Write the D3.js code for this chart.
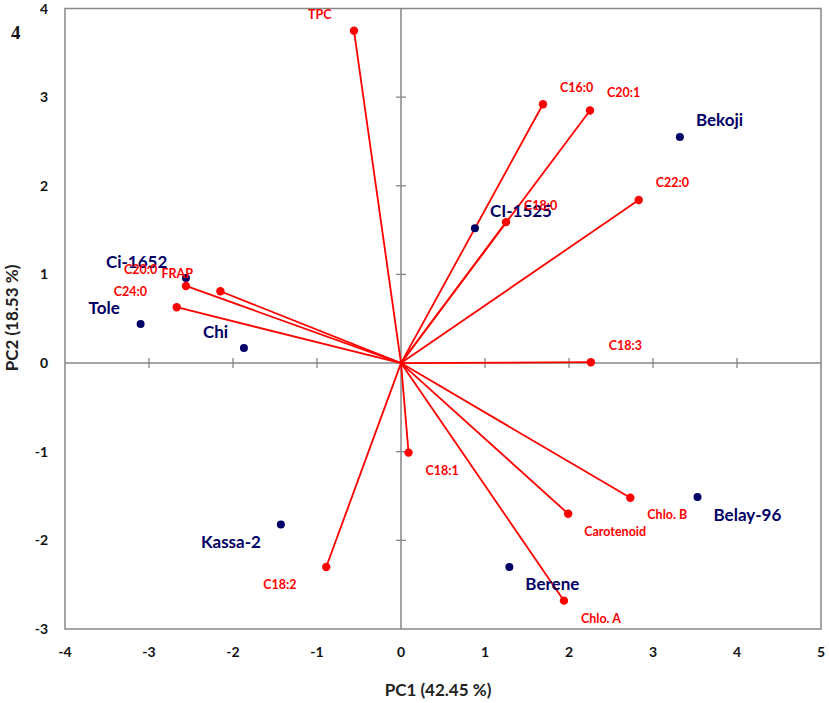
<!DOCTYPE html>
<html>
<head>
<meta charset="utf-8">
<script src="https://cdn.jsdelivr.net/npm/d3@7"></script>
<style>
  body { margin: 0; background: #fff; }
  text { font-family: Lato, "Open Sans", sans-serif; font-weight: bold; }
</style>
</head>
<body>
<div id="wrap"></div>
<script>
// loadings (red vectors)
var varNames = ["TPC", "C20:0", "FRAP", "C24:0", "C16:0", "C20:1", "C22:0", "C18:0", "C18:3", "C18:1", "Chlo. B", "Carotenoid", "Chlo. A", "C18:2"];
var varPC1 = [-0.56, -2.56, -2.15, -2.67, 1.69, 2.25, 2.83, 1.25, 2.26, 0.09, 2.73, 1.99, 1.94, -0.89];
var varPC2 = [3.75, 0.87, 0.81, 0.63, 2.92, 2.85, 1.84, 1.59, 0.01, -1.01, -1.52, -1.70, -2.68, -2.30];

// scores (genotypes)
var sampleNames = ["Ci-1652", "Tole", "Chi", "CI-1525", "Bekoji", "Belay-96", "Berene", "Kassa-2"];
var samplePC1 = [-2.56, -3.10, -1.87, 0.88, 3.32, 3.53, 1.29, -1.43];
var samplePC2 = [0.96, 0.44, 0.17, 1.52, 2.55, -1.51, -2.30, -1.82];

var xTicks = [-4, -3, -2, -1, 0, 1, 2, 3, 4, 5];
var yTicks = [-3, -2, -1, 0, 1, 2, 3, 4];

// label offsets from the marker (px)
var varLabelOff = {
  "TPC": [-46, -12], "C20:0": [-62, -12], "FRAP": [-59, -13], "C24:0": [-63, -11],
  "C16:0": [17, -12], "C20:1": [17, -13], "C22:0": [17, -13], "C18:0": [18, -12],
  "C18:3": [18, -12], "C18:1": [17, 22], "Chlo. B": [17, 21], "Carotenoid": [16, 22],
  "Chlo. A": [17, 22], "C18:2": [-63, 22]
};
var sampleLabelOff = {
  "Ci-1652": [-80, -10], "Tole": [-52, -10], "Chi": [-41, -10], "CI-1525": [15, -11],
  "Bekoji": [16, -11], "Belay-96": [16, 24], "Berene": [16, 23], "Kassa-2": [-80, 24]
};

var W = 829, H = 703;
var box = {left: 65, right: 821, top: 8.5, bottom: 629};

var svg = d3.select('#wrap').append('svg')
  .attr('width', W)
  .attr('height', H);

var x = d3.scaleLinear().domain([-4, 5]).range([box.left, box.right]);
var y = d3.scaleLinear().domain([-3, 4]).range([box.bottom, box.top]);

var grey = '#868686';

//frame
svg.append('rect')
  .attr('x', box.left).attr('y', box.top)
  .attr('width', box.right - box.left).attr('height', box.bottom - box.top)
  .style('fill', 'none').style('stroke', grey).style('stroke-width', 1.5);

//zero lines
svg.append('line')
  .attr('x1', box.left).attr('x2', box.right)
  .attr('y1', y(0)).attr('y2', y(0))
  .style('stroke', grey).style('stroke-width', 1.5);
svg.append('line')
  .attr('x1', x(0)).attr('x2', x(0))
  .attr('y1', box.top).attr('y2', box.bottom)
  .style('stroke', grey).style('stroke-width', 1.5);

//ticks crossing the zero lines
svg.selectAll('.xt').data(xTicks.filter(function(d){ return d > -4 && d < 5 && d !== 0; }))
  .enter().append('line')
  .attr('x1', function(d){ return x(d); }).attr('x2', function(d){ return x(d); })
  .attr('y1', y(0) - 5).attr('y2', y(0) + 5)
  .style('stroke', grey).style('stroke-width', 1.3);
svg.selectAll('.yt').data(yTicks.filter(function(d){ return d > -3 && d < 4 && d !== 0; }))
  .enter().append('line')
  .attr('x1', x(0) - 5).attr('x2', x(0) + 5)
  .attr('y1', function(d){ return y(d); }).attr('y2', function(d){ return y(d); })
  .style('stroke', grey).style('stroke-width', 1.3);

//tick labels
svg.selectAll('.xl').data(xTicks).enter().append('text')
  .attr('x', function(d){ return x(d); })
  .attr('y', 657)
  .attr('text-anchor', 'middle')
  .style('font-size', '14px').style('fill', '#111')
  .text(function(d){ return d; });
svg.selectAll('.yl').data(yTicks).enter().append('text')
  .attr('x', 48)
  .attr('y', function(d){ return y(d) + 5; })
  .attr('text-anchor', 'end')
  .style('font-size', '14px').style('fill', '#111')
  .text(function(d){ return d; });

//axis titles
svg.append('text')
  .attr('x', 438).attr('y', 696)
  .attr('text-anchor', 'middle')
  .style('font-size', '17px').style('fill', '#222')
  .text('PC1 (42.45 %)');
svg.append('text')
  .attr('transform', 'translate(18,318) rotate(-90)')
  .attr('text-anchor', 'middle')
  .style('font-size', '17px').style('fill', '#222')
  .text('PC2 (18.53 %)');

//panel number
svg.append('text')
  .attr('x', 11).attr('y', 39)
  .style('font-family', '"Liberation Serif", serif')
  .style('font-size', '19px').style('fill', '#111')
  .text('4');

//vectors
var vars = varNames.map(function(n, i){ return {name: n, pc1: varPC1[i], pc2: varPC2[i]}; });
var samples = sampleNames.map(function(n, i){ return {name: n, pc1: samplePC1[i], pc2: samplePC2[i]}; });

svg.selectAll('.vec').data(vars).enter().append('line')
  .attr('x1', x(0)).attr('y1', y(0))
  .attr('x2', function(d){ return x(d.pc1); })
  .attr('y2', function(d){ return y(d.pc2); })
  .style('stroke', '#ff0000').style('stroke-width', 1.8);

svg.selectAll('.sdot').data(samples).enter().append('circle')
  .attr('cx', function(d){ return x(d.pc1); })
  .attr('cy', function(d){ return y(d.pc2); })
  .attr('r', 4)
  .style('fill', '#000066');

svg.selectAll('.vdot').data(vars).enter().append('circle')
  .attr('cx', function(d){ return x(d.pc1); })
  .attr('cy', function(d){ return y(d.pc2); })
  .attr('r', 4.2)
  .style('fill', '#ff0000');

svg.selectAll('.slab').data(samples).enter().append('text')
  .attr('x', function(d){ return x(d.pc1) + sampleLabelOff[d.name][0]; })
  .attr('y', function(d){ return y(d.pc2) + sampleLabelOff[d.name][1]; })
  .style('font-size', '17px').style('fill', '#000066')
  .text(function(d){ return d.name; });

svg.selectAll('.vlab').data(vars).enter().append('text')
  .attr('x', function(d){ return x(d.pc1) + varLabelOff[d.name][0]; })
  .attr('y', function(d){ return y(d.pc2) + varLabelOff[d.name][1]; })
  .style('font-size', '12.5px').style('fill', '#ff0000')
  .text(function(d){ return d.name; });
</script>
</body>
</html>
